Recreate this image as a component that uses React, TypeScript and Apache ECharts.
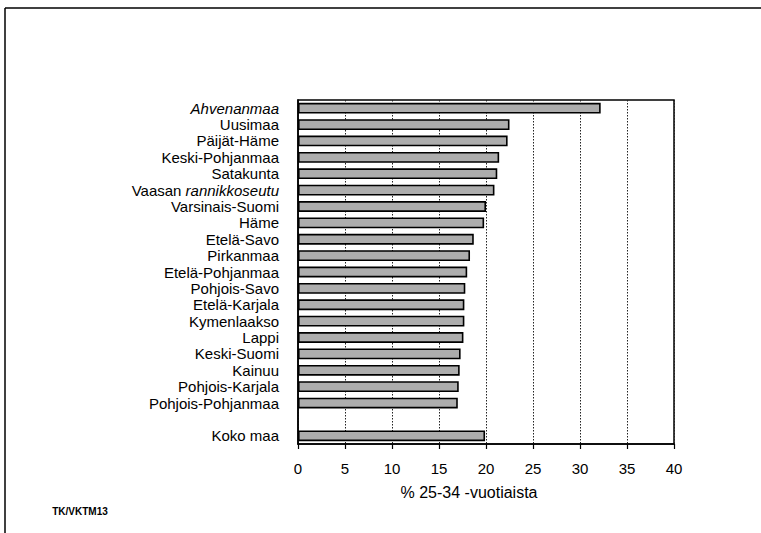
import React, { useEffect, useRef } from "react";
import * as echarts from "echarts";

const categories = [
  "Ahvenanmaa",
  "Uusimaa",
  "Päijät-Häme",
  "Keski-Pohjanmaa",
  "Satakunta",
  "Vaasan rannikkoseutu",
  "Varsinais-Suomi",
  "Häme",
  "Etelä-Savo",
  "Pirkanmaa",
  "Etelä-Pohjanmaa",
  "Pohjois-Savo",
  "Etelä-Karjala",
  "Kymenlaakso",
  "Lappi",
  "Keski-Suomi",
  "Kainuu",
  "Pohjois-Karjala",
  "Pohjois-Pohjanmaa",
  "",
  "Koko maa",
];

const values: (number | null)[] = [
  32.2, 22.5, 22.3, 21.4, 21.2, 20.9, 20.0, 19.8, 18.7, 18.3, 18.0, 17.8, 17.7,
  17.7, 17.6, 17.3, 17.2, 17.1, 17.0, null, 19.9,
];

const axisTitle = "% 25-34 -vuotiaista";
const sourceNote = "TK/VKTM13";

const FONT = "'Liberation Sans', Arial, Helvetica, sans-serif";

export default function App() {
  const ref = useRef<HTMLDivElement>(null);
  useEffect(() => {
    if (!ref.current) return;
    const chart = echarts.init(ref.current, undefined, { renderer: "svg" });
    chart.setOption({
      animation: false,
      backgroundColor: "#fff",
      grid: {
        left: 298,
        top: 100,
        right: 87,
        bottom: 89,
        show: true,
        borderColor: "#000",
        borderWidth: 1.5,
        backgroundColor: "transparent",
      },
      xAxis: {
        type: "value",
        min: 0,
        max: 40,
        interval: 5,
        axisLine: { show: true, lineStyle: { color: "#000", width: 1.5 } },
        axisTick: { show: true, inside: false, length: 5, lineStyle: { color: "#000", width: 1.2 } },
        axisLabel: { color: "#000", fontSize: 15, fontFamily: FONT, margin: 17 },
        splitLine: { show: true, lineStyle: { color: "#222", type: [1.5, 1.5], width: 1 } },
      },
      yAxis: {
        type: "category",
        inverse: true,
        data: categories,
        axisLine: { show: true, lineStyle: { color: "#000", width: 1.5 } },
        axisTick: { show: false },
        axisLabel: {
          color: "#000",
          fontSize: 15,
          fontFamily: FONT,
          margin: 19,
          interval: 0,
          formatter: (v: string) =>
            v === "Vaasan rannikkoseutu"
              ? "Vaasan {it|rannikkoseutu}"
              : v === "Ahvenanmaa"
              ? "{it|Ahvenanmaa}"
              : v,
          rich: {
            it: { fontStyle: "italic", fontSize: 15, fontFamily: FONT, color: "#000" },
          },
        },
        splitLine: { show: false },
      },
      series: [
        {
          type: "bar",
          data: values,
          barWidth: "66%",
          itemStyle: {
            color: "#adadad",
            borderColor: "#000",
            borderWidth: 1.6,
          },
        },
      ],
      graphic: [
        {
          type: "line",
          shape: { x1: 5, y1: 8, x2: 761, y2: 8 },
          style: { stroke: "#000", lineWidth: 1.5 },
        },
        {
          type: "line",
          shape: { x1: 5, y1: 8, x2: 5, y2: 533 },
          style: { stroke: "#000", lineWidth: 1.5 },
        },
        {
          type: "text",
          x: 469,
          y: 492,
          style: {
            text: axisTitle,
            fill: "#000",
            font: `16px ${FONT}`,
            align: "center",
            verticalAlign: "middle",
          },
        },
        {
          type: "text",
          x: 80,
          y: 511,
          style: {
            text: sourceNote,
            fill: "#000",
            font: `bold 10px ${FONT}`,
            align: "center",
            verticalAlign: "middle",
          },
        },
      ],
    });
    return () => chart.dispose();
  }, []);
  return (
    <div
      ref={ref}
      style={{ position: "fixed", left: 0, top: 0, width: 761, height: 533 }}
    />
  );
}
